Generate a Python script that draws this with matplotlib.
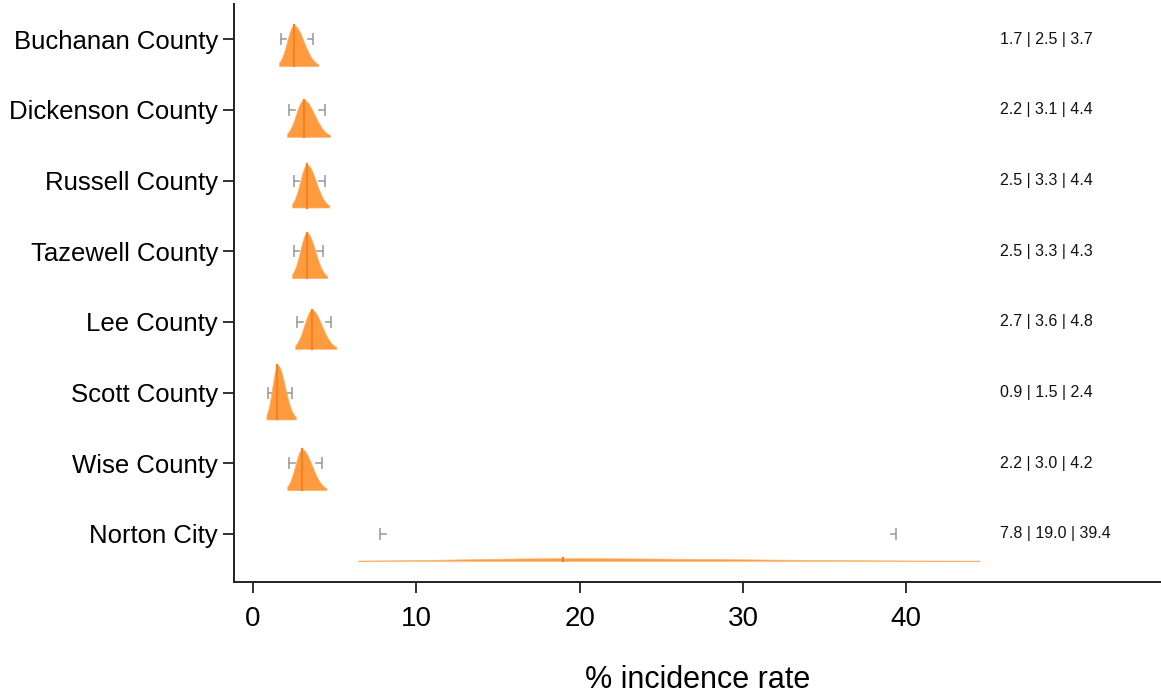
import numpy as np
import matplotlib.pyplot as plt
import matplotlib.transforms as mtransforms

plt.rcParams['font.family'] = ['Liberation Sans', 'DejaVu Sans']

## Data ####################################################################
counties = ['Buchanan County', 'Dickenson County', 'Russell County', 'Tazewell County',
            'Lee County', 'Scott County', 'Wise County', 'Norton City']
lower = [1.7, 2.2, 2.5, 2.5, 2.7, 0.9, 2.2, 7.8]
median = [2.5, 3.1, 3.3, 3.3, 3.6, 1.5, 3.0, 19.0]
upper = [3.7, 4.4, 4.4, 4.3, 4.8, 2.4, 4.2, 39.4]
xticks = [0, 10, 20, 30, 40]

## Style ###################################################################
fill_col = '#FE9B3F'
med_col = '#F58220'
err_col = '#A0A0A0'
base_off = 0.38     # density baseline below the row [row units]
h_scale = 0.74      # density height scale
stub = 0.35         # length of error bar stubs [data units]
z_left = 2.2        # truncation of density, left side (in sd)
z_right = 2.45      # truncation of density, right side (in sd)

fig = plt.figure(figsize=(11.61, 6.96), dpi=100)
ax = fig.add_axes([234/1161, 114/696, 1 - 234/1161, (582 - 4)/696])
trans = mtransforms.blended_transform_factory(ax.transAxes, ax.transData)

for i, name in enumerate(counties):
    m = median[i]
    sl = (m - lower[i]) / 1.96
    sr = (upper[i] - m) / 1.96
    x = np.linspace(m - z_left*sl, m + z_right*sr, 400)
    s = np.where(x < m, sl, sr)
    peak = 2/(np.sqrt(2*np.pi)*(sl + sr))
    dens = peak * np.exp(-(x - m)**2/(2*s**2))
    base = i + base_off
    top = base - h_scale*dens

    # error bar stubs (drawn below the density)
    ax.plot([lower[i], lower[i] + stub], [i, i], color=err_col, lw=1.2, zorder=1)
    ax.plot([upper[i] - stub, upper[i]], [i, i], color=err_col, lw=1.2, zorder=1)
    ax.plot([lower[i], upper[i]], [i, i], ls='none', marker='|', ms=8.5, mew=1.2,
            color=err_col, zorder=1)

    ax.fill_between(x, base, top, color=fill_col, lw=0.5, edgecolor='#FFB46E', zorder=2)
    ax.plot([m, m], [base, base - h_scale*peak], color=med_col, lw=1.6, zorder=3)

    ax.text(0.826, i, f'{lower[i]:.1f} | {median[i]:.1f} | {upper[i]:.1f}', transform=trans,
            ha='left', va='center', fontsize=11.5, color='#111111')

ax.set_xlim(-1.16, 55.6)
ax.set_ylim(7.68, -0.5)
ax.set_yticks(range(len(counties)))
ax.set_yticklabels(counties, fontsize=18.5)
ax.set_xticks(xticks)
ax.set_xticklabels([str(t) for t in xticks], fontsize=20)
ax.tick_params(axis='both', length=8, width=1.3, color='#222222')
ax.tick_params(axis='x', pad=9)
ax.set_xlabel('% incidence rate', fontsize=22, labelpad=24)

for sp in ['top', 'right']:
    ax.spines[sp].set_visible(False)
for sp in ['left', 'bottom']:
    ax.spines[sp].set_linewidth(1.4)
    ax.spines[sp].set_color('#222222')

fig.savefig('out.png', dpi=100)
